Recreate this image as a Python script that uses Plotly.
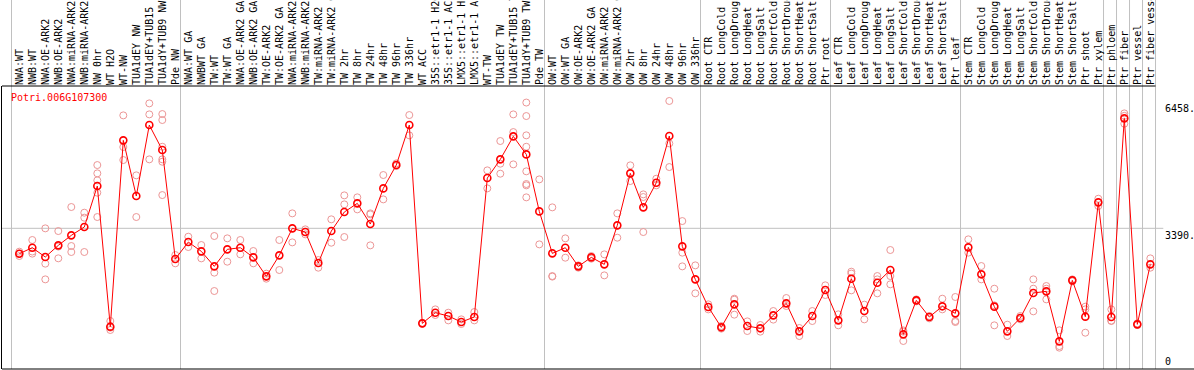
import plotly.graph_objects as go

gene = "Potri.006G107300"

labels = [
    "NWA:WT", "NWB:WT", "NWA:OE-ARK2", "NWB:OE-ARK2", "NWA:miRNA-ARK2", "NWB:miRNA-ARK2",
    "NW 0hr", "WT H2O", "WT-NW", "TUA1dEY NW", "TUA1dEY+TUB15 NW", "TUA1dY+TUB9 NW", "Pde NW",
    "NWA:WT GA", "NWBWT GA", "TW:WT", "TW:WT GA", "NWA:OE-ARK2 GA", "NWB:OE-ARK2 GA",
    "TW:OE-ARK2", "TW:OE-ARK2 GA", "NWA:miRNA-ARK2 GA", "NWB:miRNA-ARK2 GA", "TW:miRNA-ARK2",
    "TW:miRNA-ARK2 GA", "TW 2hr", "TW 8hr", "TW 24hr", "TW 48hr", "TW 96hr", "TW 336hr",
    "WT ACC", "35S::etr1-1 H2O", "35S::etr1-1 ACC", "LMX5::etr1-1 H2O", "LMX5::etr1-1 ACC",
    "WT-TW", "TUA1dEY TW", "TUA1dEY+TUB15 TW", "TUA1dY+TUB9 TW", "Pde TW",
    "OW:WT", "OW:WT GA", "OW:OE-ARK2", "OW:OE-ARK2 GA", "OW:miRNA-ARK2", "OW:miRNA-ARK2 GA",
    "OW 2hr", "OW 8hr", "OW 24hr", "OW 48hr", "OW 96hr", "OW 336hr",
    "Root CTR", "Root LongCold", "Root LongDrought", "Root LongHeat", "Root LongSalt",
    "Root ShortCold", "Root ShortDrought", "Root ShortHeat", "Root ShortSalt", "Ptr root",
    "Leaf CTR", "Leaf LongCold", "Leaf LongDrought", "Leaf LongHeat", "Leaf LongSalt",
    "Leaf ShortCold", "Leaf ShortDrought", "Leaf ShortHeat", "Leaf ShortSalt", "Ptr leaf",
    "Stem CTR", "Stem LongCold", "Stem LongDrought", "Stem LongHeat", "Stem LongSalt",
    "Stem ShortCold", "Stem ShortDrought", "Stem ShortHeat", "Stem ShortSalt", "Ptr shoot",
    "Ptr xylem", "Ptr phloem", "Ptr fiber", "Ptr vessel", "Ptr fiber vessel",
]

means = [
    2778, 2923, 2698, 2979, 3220, 3421, 4408, 1020, 5509, 4168, 5878, 5276, 2650,
    3059, 2835, 2473, 2883, 2923, 2690, 2232, 2738, 3389, 3300, 2554, 3324, 3782,
    3991, 3493, 4352, 4915, 5878, 1100, 1357, 1277, 1132, 1253, 4601, 5051, 5605,
    5171, 3798,
    2786, 2923, 2473, 2690, 2521, 3461, 4714, 3895, 4489, 5613, 2955, 2160,
    1494, 1004, 1558, 1036, 980, 1293, 1582, 907, 1277, 1903,
    1172, 2176, 1397, 2080, 2385, 835, 1654, 1253, 1510, 1341,
    2931, 2281, 1502, 907, 1229, 1831, 1871, 666, 2136, 1261, 4015,
    1253, 6039, 1076, 2521,
]

replicates = [
    [2827, 2722, 2780], [3108, 2830, 2780], [3389, 2538, 2160], [3324, 2667, 2950],
    [3903, 2963, 2819], [3766, 3646, 2819], [4914, 4714, 4545, 4248, 3662],
    [1156, 996, 940], [6111, 5348, 5035], [4666, 3662], [6400, 6135, 5051],
    [6143, 5999, 5355, 5052, 4994, 4191], [2746, 2546],
    [3188, 2939], [2987, 2666], [3204, 2321, 1879], [3148, 2586], [3108, 2763],
    [2843, 2546], [2297, 2176], [3108, 2385], [3750, 3051], [3365, 3244], [2626, 2441],
    [3606, 3043], [4184, 3967, 3180], [4136, 3846], [3750, 2979, 3726], [4674, 4087],
    [4955, 4890], [6119, 5629], [1110, 1090], [1437, 1301], [1357, 1172], [1196, 1084],
    [1373, 1172], [4786, 4352], [5493, 4947, 4706], [6135, 5709, 4931],
    [6420, 6095, 5630, 5355, 4763, 4457, 4425, 4136], [4569, 3003],
    [3895, 2240, 2226], [3148, 2682], [2497, 2441], [2722, 2658], [2762, 2256],
    [3750, 3164], [4907, 4529], [4208, 4144, 3300], [4585, 4425], [6458, 5436, 4866],
    [3565, 2803, 2473], [2497, 1823],
    [1558, 1437], [1036, 972], [1694, 1670, 1309], [1148, 915], [1060, 900], [1397, 1190],
    [1710, 1518], [988, 795], [1397, 1156], [2016, 1783],
    [1317, 1052], [2345, 2300, 1895], [1550, 1196], [2240, 2160, 1823], [2867, 2240, 2040],
    [900, 930, 675], [1678, 1630], [1277, 1220], [1694, 1437], [1735, 1156, 1132],
    [3124, 2803], [2481, 2160], [1935, 1534, 1052], [1068, 795], [1277, 1196],
    [2160, 1935, 1389], [2000, 1935, 1678], [932, 552, 514], [2160, 2112],
    [1502, 1437, 875], [4103, 3927],
    [1437, 1165, 1156], [6159, 6100, 5910], [1100, 1060], [2666, 2441],
]

group_last = [12, 40, 52, 62, 72, 83, 84, 85, 86, 87]
y_marks = [6458, 3390, 0]

FONT = "DejaVu Sans Mono"
x_idx = list(range(len(labels)))

rx, ry = [], []
for i, vals in enumerate(replicates):
    for v in vals:
        rx.append(i)
        ry.append(v)

fig = go.Figure()
fig.add_trace(go.Scatter(
    x=rx, y=ry, mode="markers",
    marker=dict(symbol="circle-open", size=7, color="rgb(236,150,150)", line=dict(width=1)),
    hoverinfo="skip",
))
fig.add_trace(go.Scatter(
    x=x_idx, y=means, mode="lines+markers",
    line=dict(color="#ff0000", width=1),
    marker=dict(symbol="circle-open", size=7, color="#ff0000", line=dict(width=1.6)),
))

shapes = []
shapes.append(dict(type="line", xref="x", yref="y", x0=-2, x1=88, y0=3390, y1=3390,
                   line=dict(color="#c0c0c0", width=1), layer="below"))
seps = [-0.6] + [k + 0.4 for k in group_last]
for s in seps:
    shapes.append(dict(type="line", xref="x", yref="paper", x0=s, x1=s, y0=0, y1=1.32,
                       line=dict(color="#c0c0c0", width=1), layer="below"))
shapes.append(dict(type="line", xref="x", yref="paper", x0=-2, x1=group_last[-1] + 0.4,
                   y0=1.0, y1=1.0, line=dict(color="black", width=1)))
shapes.append(dict(type="line", xref="paper", yref="paper", x0=0, x1=1, y0=0, y1=0,
                   line=dict(color="black", width=1)))

annotations = [dict(text=gene, xref="paper", yref="paper", x=0.006, y=0.961,
                    xanchor="left", yanchor="middle", showarrow=False,
                    font=dict(family=FONT, size=10, color="#ff0000"))]
for v in y_marks:
    annotations.append(dict(
        text=(f"{v}." if v else "0"), xref="x", yref="y", x=88, y=v,
        xanchor="left", yanchor=("top" if v else "bottom"), showarrow=False,
        font=dict(family=FONT, size=10, color="black")))

fig.update_layout(
    width=1194, height=370,
    margin=dict(l=2, r=0, t=86, b=1, pad=0, autoexpand=False),
    paper_bgcolor="white", plot_bgcolor="white",
    showlegend=False, hovermode=False,
    shapes=shapes, annotations=annotations,
    xaxis=dict(range=[-1.331, 90.36], side="top", tickmode="array", automargin=False,
               tickvals=x_idx, ticktext=labels, tickangle=-90, ticks="",
               showgrid=False, zeroline=False, showline=False,
               tickfont=dict(family=FONT, size=10, color="black")),
    yaxis=dict(range=[0, 6819], showticklabels=False, showgrid=False, zeroline=False,
               automargin=False,
               showline=True, linecolor="black", linewidth=1, ticks=""),
)

fig.write_html(
    "out.html",
    config={"displayModeBar": False, "staticPlot": True},
    post_script="document.body.style.margin='0';document.body.style.overflow='hidden';",
)
